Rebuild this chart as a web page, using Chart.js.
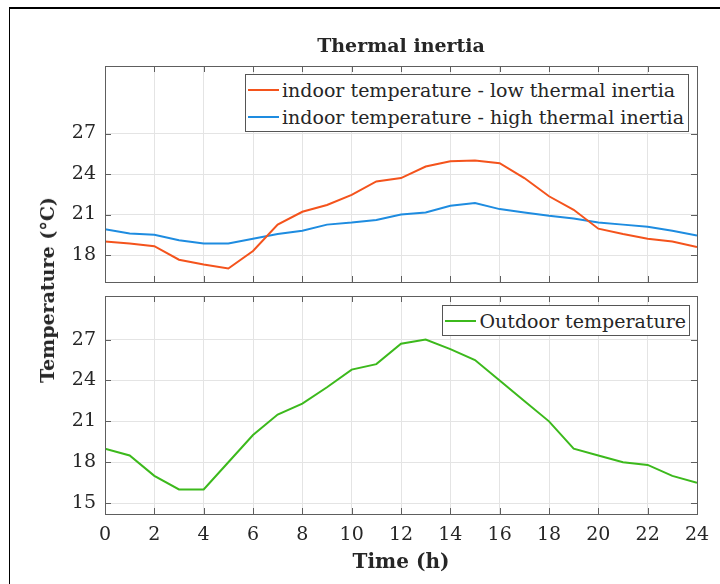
<!DOCTYPE html>
<html>
<head>
<meta charset="utf-8">
<script src="https://cdn.jsdelivr.net/npm/chart.js@4.4.1/dist/chart.umd.min.js"></script>
<style>
  body { margin: 0; background: #fff; font-family: 'DejaVu Serif', serif; color: #262626; }
  #wrap { position: relative; width: 720px; height: 584px; overflow: hidden; }
  canvas { position: absolute; left: 0; }
  .frame { position: absolute; left: 9px; top: 7px; width: 720px; height: 600px; border-left: 1px solid #000; border-top: 2px solid #000; }
  .title { position: absolute; left: 105px; width: 592px; top: 34px; text-align: center; font-weight: bold; font-size: 19px; }
  .xlabel { position: absolute; left: 105px; width: 592px; top: 549px; text-align: center; font-weight: bold; font-size: 20px; }
  .ylabel { position: absolute; left: 47px; top: 290px; transform: translate(-50%, -50%) rotate(-90deg); white-space: nowrap; font-weight: bold; font-size: 19px; }
  .legend { position: absolute; background: #fff; border: 1px solid #555; font-size: 19px; padding: 0 4px 0 2px; }
  .legend div { display: flex; align-items: center; height: 27px; white-space: nowrap; }
  .legend span.swatch { display: inline-block; width: 31px; height: 0; border-top: 2px solid; margin-right: 3px; }
</style>
</head>
<body>
<div id="wrap">
  <div class="frame"></div>
  <canvas id="topChart" width="720" height="290" style="top:0"></canvas>
  <canvas id="bottomChart" width="720" height="294" style="top:290px"></canvas>
  <div class="title">Thermal inertia</div>
  <div class="ylabel">Temperature (°C)</div>
  <div class="xlabel">Time (h)</div>
  <div class="legend" style="right:31px; top:74px; padding-top:1px; padding-bottom:1px">
    <div><span class="swatch" style="border-color:#F4531C"></span>indoor temperature - low thermal inertia</div>
    <div><span class="swatch" style="border-color:#1E8CE0"></span>indoor temperature - high thermal inertia</div>
  </div>
  <div class="legend" style="right:30px; top:305px; padding-right:3px">
    <div style="height:29px"><span class="swatch" style="border-color:#3CB91C"></span>Outdoor temperature</div>
  </div>
</div>
<script>
// hourly values
const hours = [0, 1, 2, 3, 4, 5, 6, 7, 8, 9, 10, 11, 12, 13, 14, 15, 16, 17, 18, 19, 20, 21, 22, 23, 24]
const lowInertia = [19.0, 18.85, 18.65, 17.65, 17.3, 17.0, 18.3, 20.25, 21.2, 21.7, 22.45, 23.45, 23.7, 24.55, 24.95, 25.0, 24.8, 23.7, 22.35, 21.35, 19.95, 19.55, 19.2, 19.0, 18.6]
const highInertia = [19.9, 19.6, 19.5, 19.1, 18.85, 18.85, 19.2, 19.55, 19.8, 20.25, 20.4, 20.6, 21.0, 21.15, 21.65, 21.85, 21.4, 21.15, 20.9, 20.7, 20.4, 20.25, 20.1, 19.8, 19.45]
const outdoor = [19.0, 18.5, 17.0, 16.0, 16.0, 18.0, 20.0, 21.5, 22.3, 23.5, 24.8, 25.2, 26.7, 27.0, 26.3, 25.5, 24.0, 22.5, 21.0, 19.0, 18.5, 18.0, 17.8, 17.0, 16.5]
const xTicks = [0, 2, 4, 6, 8, 10, 12, 14, 16, 18, 20, 22, 24]
const yTicksTop = [18, 21, 24, 27]
const yTicksBottom = [15, 18, 21, 24, 27]

const font = { family: "'DejaVu Serif', serif", size: 19 }
const gridColor = '#e4e4e4'

// matlab-ish box with inward ticks
const axesBox = {
  id: 'axesBox',
  afterDraw(chart) {
    const { ctx, chartArea: a, scales } = chart
    ctx.save()
    ctx.strokeStyle = '#5e5e5e'
    ctx.lineWidth = 1
    ctx.beginPath()
    scales.x.ticks.forEach(t => {
      const x = Math.round(scales.x.getPixelForValue(t.value)) + 0.5
      ctx.moveTo(x, a.bottom); ctx.lineTo(x, a.bottom - 6)
      ctx.moveTo(x, a.top); ctx.lineTo(x, a.top + 6)
    })
    scales.y.ticks.forEach(t => {
      const y = Math.round(scales.y.getPixelForValue(t.value)) + 0.5
      ctx.moveTo(a.left, y); ctx.lineTo(a.left + 6, y)
      ctx.moveTo(a.right, y); ctx.lineTo(a.right - 6, y)
    })
    ctx.stroke()
    ctx.strokeRect(Math.round(a.left) + 0.5, Math.round(a.top) + 0.5, Math.round(a.right - a.left), Math.round(a.bottom - a.top))
    ctx.restore()
  }
}

function series(values, color) {
  return {
    data: hours.map((h, i) => ({ x: h, y: values[i] })),
    borderColor: color,
    borderWidth: 2,
    pointRadius: 0,
    tension: 0,
    fill: false
  }
}

function makeOptions(yMin, yMax, yTicks, showX, padding) {
  return {
    responsive: false,
    animation: false,
    layout: { padding },
    plugins: { legend: { display: false }, tooltip: { enabled: false } },
    scales: {
      x: {
        type: 'linear', min: 0, max: 24,
        afterBuildTicks: s => { s.ticks = xTicks.map(v => ({ value: v })) },
        afterFit: s => { s.height = showX ? 70 : 0; s.paddingLeft = 0; s.paddingRight = 0 },
        grid: { color: gridColor, drawTicks: false },
        border: { display: false },
        ticks: { display: showX, padding: 10, font, color: '#262626', maxRotation: 0 }
      },
      y: {
        min: yMin, max: yMax,
        afterBuildTicks: s => { s.ticks = yTicks.map(v => ({ value: v })) },
        afterFit: s => { s.width = 105; s.paddingTop = 0; s.paddingBottom = 0 },
        grid: { color: gridColor, drawTicks: false },
        border: { display: false },
        ticks: { padding: 9, font, color: '#262626' }
      }
    }
  }
}

new Chart(document.getElementById('topChart'), {
  type: 'line',
  data: { datasets: [series(lowInertia, '#F4531C'), series(highInertia, '#1E8CE0')] },
  options: makeOptions(16, 32, yTicksTop, false, { left: 0, right: 23, top: 66, bottom: 8 }),
  plugins: [axesBox]
})

new Chart(document.getElementById('bottomChart'), {
  type: 'line',
  data: { datasets: [series(outdoor, '#3CB91C')] },
  options: makeOptions(14.2, 30.2, yTicksBottom, true, { left: 0, right: 23, top: 6, bottom: 0 }),
  plugins: [axesBox]
})
</script>
</body>
</html>
